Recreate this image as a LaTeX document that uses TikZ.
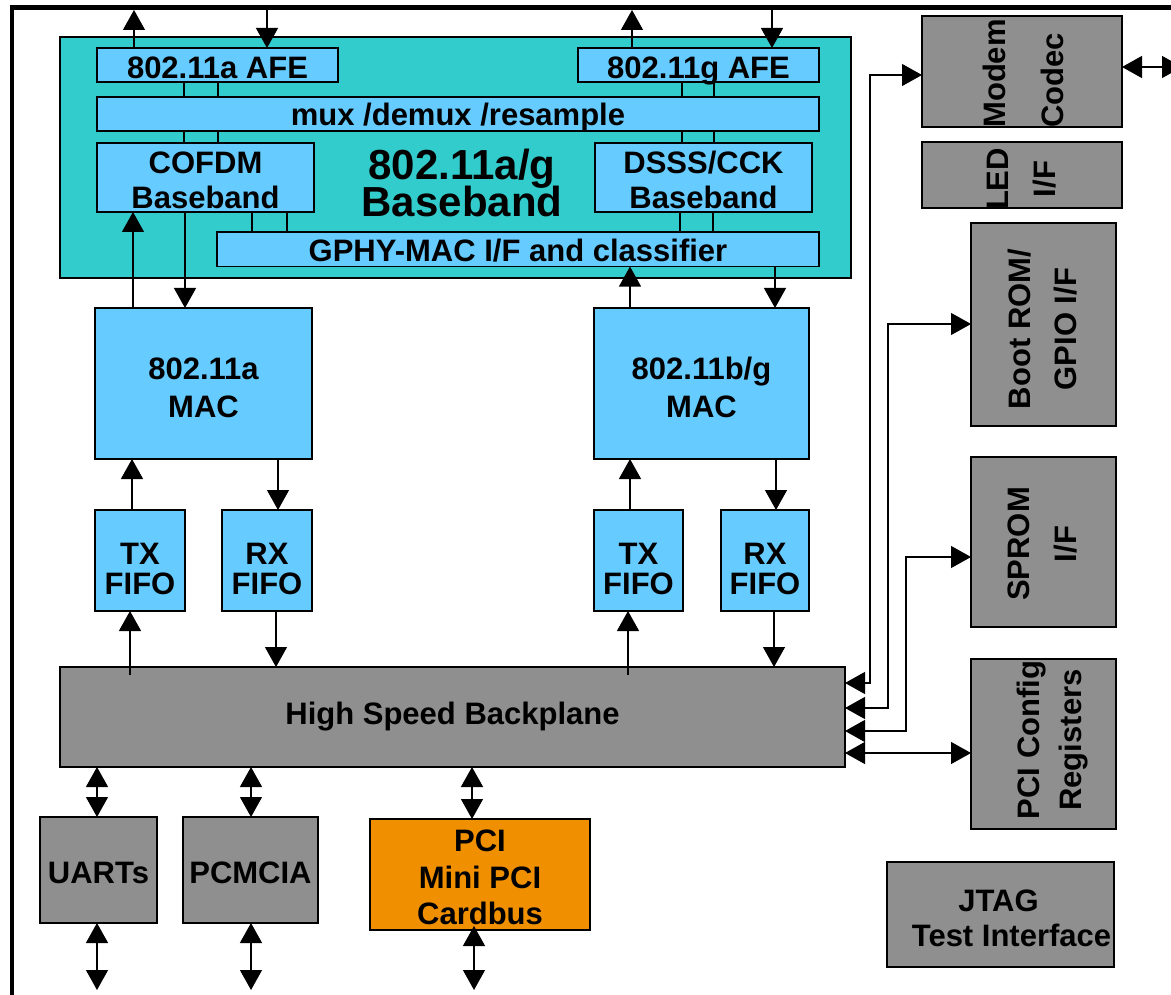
\documentclass[tikz,border=0pt]{standalone}
\usepackage{fontspec}
\setmainfont{Liberation Sans}
\usetikzlibrary{arrows.meta}
\definecolor{tealbg}{HTML}{33CCCC}
\definecolor{lblue}{HTML}{66CCFF}
\definecolor{gbox}{HTML}{8F8F8F}
\definecolor{orng}{HTML}{F09000}
\newcommand\fsz[2]{\fontsize{#1}{#2}\selectfont\bfseries\lineskiplimit=-100pt\lineskip=0pt\relax}
\begin{document}
\begin{tikzpicture}[x=1pt,y=-1pt,
  box/.style={draw=black, line width=1.8pt, inner sep=0pt, outer sep=0pt, align=center, font=\fsz{31}{35}},
  bluebox/.style={box, fill=lblue},
  graybox/.style={box, fill=gbox},
  lbl/.style={inner sep=0pt, outer sep=0pt, align=center, font=\fsz{31}{35}},
  rlbl/.style={lbl, rotate=90},
  ln/.style={line width=1.3pt},
  arr/.style={ln, -{Triangle[length=20pt,width=22pt]}},
  dbl/.style={ln, {Triangle[length=20pt,width=22pt]}-{Triangle[length=20pt,width=22pt]}},
]
\fill[white] (0,0) rectangle (1171,995);
\useasboundingbox (0,0) rectangle (1171,995);

% outer frame
\draw[line width=4.5pt, line join=miter] (12,1000) -- (12,7.5) -- (1190,7.5);

% baseband block
\node[box, fill=tealbg, minimum width=791pt, minimum height=241pt] (teal) at (455.5,157.5) {};
\node[bluebox, minimum width=241pt, minimum height=34pt, text height=28pt, text depth=0pt] (afea) at (217.5,65) {802.11a AFE};
\node[bluebox, minimum width=241pt, minimum height=34pt, text height=28pt, text depth=0pt] (afeg) at (698.5,65) {802.11g AFE};
\node[bluebox, minimum width=722pt, minimum height=34pt, text height=24pt, text depth=0pt] (mux) at (458,114) {mux /demux /resample};
\node[bluebox, minimum width=217pt, minimum height=69pt, text height=62pt] (cofdm) at (205.5,177.5) {COFDM\\Baseband};
\node[bluebox, minimum width=217pt, minimum height=69pt, text height=62pt] (dsss) at (703.5,177.5) {DSSS/CCK\\Baseband};
\node[bluebox, minimum width=602pt, minimum height=34.5pt, text height=25pt, text depth=0pt] (gphy) at (518,249.3) {GPHY-MAC I/F and classifier};
\node[lbl, font=\fsz{42}{37}] (title) at (462,183) {802.11a/g\\Baseband};

% MACs and FIFOs
\node[bluebox, minimum width=217pt, minimum height=151pt, font=\fsz{31}{38}, text height=68pt] (maca) at (203.5,383.5) {802.11a\\MAC};
\node[bluebox, minimum width=215pt, minimum height=151pt, font=\fsz{31}{38}, text height=68pt] (macg) at (701.5,383.5) {802.11b/g\\MAC};
\node[bluebox, minimum width=90pt, minimum height=101pt, font=\fsz{31}{30}, text height=67.6pt] (txa) at (140,560.5) {TX\\FIFO};
\node[bluebox, minimum width=90pt, minimum height=101pt, font=\fsz{31}{30}, text height=67.6pt] (rxa) at (267,560.5) {RX\\FIFO};
\node[bluebox, minimum width=89pt, minimum height=101pt, font=\fsz{31}{30}, text height=67.6pt] (txg) at (638.5,560.5) {TX\\FIFO};
\node[bluebox, minimum width=88pt, minimum height=101pt, font=\fsz{31}{30}, text height=67.6pt] (rxg) at (765,560.5) {RX\\FIFO};

% backplane and peripherals
\node[graybox, minimum width=785pt, minimum height=100pt] (bp) at (452.5,717) {High Speed Backplane};
\node[graybox, minimum width=117pt, minimum height=106pt, text height=27pt, text depth=0pt] (uart) at (98.5,870) {UARTs};
\node[graybox, minimum width=135pt, minimum height=106pt, text height=27pt, text depth=0pt] (pcmcia) at (250.5,870) {PCMCIA};
\node[box, fill=orng, minimum width=220pt, minimum height=111pt, font=\fsz{31}{36.5}, text height=101pt] (pci) at (480,874.5) {PCI\\Mini PCI\\Cardbus};

% right column
\node[graybox, minimum width=200pt, minimum height=111pt] (modem) at (1022,71.5) {};
\node[graybox, minimum width=200pt, minimum height=66pt] (led) at (1022,175) {};
\node[graybox, minimum width=145pt, minimum height=203pt] (boot) at (1043.5,324.5) {};
\node[graybox, minimum width=145pt, minimum height=170pt] (sprom) at (1043.5,542) {};
\node[graybox, minimum width=145pt, minimum height=170pt] (pcicfg) at (1043.5,744) {};
\node[graybox, minimum width=227pt, minimum height=105pt] (jtag) at (1000.5,914.5) {};

\node[rlbl, align=left, font=\fsz{31}{58}] (modemt) at (1023.3,73.5) {Modem\\Codec};
\node[rlbl, font=\fsz{31}{47}] (ledt) at (1021.8,179) {LED\\I/F};
\node[rlbl, font=\fsz{31}{46}] (boott) at (1042.3,329) {Boot ROM/\\GPIO I/F};
\node[rlbl, font=\fsz{31}{47}] (spromt) at (1042.8,544) {SPROM\\I/F};
\node[rlbl, font=\fsz{31}{42}] (pcicfgt) at (1052.7,740) {PCI Config\\Registers};
\node[lbl, font=\fsz{31}{35}] (jtagt) at (1011.5,918.2) {JTAG\hspace*{26pt}\\Test Interface};

% top arrows to frame
\coordinate (fa1) at (134,10);
\coordinate (fa2) at (267,10);
\coordinate (fg1) at (632,10);
\coordinate (fg2) at (772,10);
\draw[arr] (afea.north -| fa1) -- (fa1);
\draw[arr] (fa2) -- (afea.north -| fa2);
\draw[arr] (afeg.north -| fg1) -- (fg1);
\draw[arr] (fg2) -- (afeg.north -| fg2);

% internal links
\foreach \x in {184,218} {
  \draw[ln] (afea.south -| \x,0) -- (mux.north -| \x,0);
  \draw[ln] (mux.south -| \x,0) -- (cofdm.north -| \x,0);
}
\foreach \x in {252,287} \draw[ln] (cofdm.south -| \x,0) -- (gphy.north -| \x,0);
\foreach \x in {682,714} {
  \draw[ln] (afeg.south -| \x,0) -- (mux.north -| \x,0);
  \draw[ln] (mux.south -| \x,0) -- (dsss.north -| \x,0);
}
\foreach \x in {680,713} \draw[ln] (dsss.south -| \x,0) -- (gphy.north -| \x,0);

% baseband <-> MAC
\draw[arr] (maca.north -| 133,0) -- (cofdm.south -| 133,0);
\draw[arr] (cofdm.south -| 185,0) -- (maca.north -| 185,0);
\draw[arr] (macg.north -| 630,0) -- (gphy.south -| 630,0);
\draw[arr] (gphy.south -| 775,0) -- (macg.north -| 775,0);

% MAC <-> FIFO
\draw[arr] (txa.north -| 132,0) -- (maca.south -| 132,0);
\draw[arr] (maca.south -| 278,0) -- (rxa.north -| 278,0);
\draw[arr] (txg.north -| 630,0) -- (macg.south -| 630,0);
\draw[arr] (macg.south -| 776,0) -- (rxg.north -| 776,0);

% FIFO <-> backplane
\coordinate (b1) at (130,675);
\coordinate (b2) at (628,675);
\draw[arr] (b1) -- (txa.south -| b1);
\draw[arr] (rxa.south -| 276,0) -- (bp.north -| 276,0);
\draw[arr] (b2) -- (txg.south -| b2);
\draw[arr] (rxg.south -| 774,0) -- (bp.north -| 774,0);

% bottom
\coordinate (e1) at (97,990);
\coordinate (e2) at (251,990);
\coordinate (e3) at (474,990);
\draw[dbl] (bp.south -| e1) -- (uart.north -| e1);
\draw[dbl] (uart.south -| e1) -- (e1);
\draw[dbl] (bp.south -| e2) -- (pcmcia.north -| e2);
\draw[dbl] (pcmcia.south -| e2) -- (e2);
\draw[dbl] (bp.south -| 472,0) -- (pci.north -| 472,0);
\draw[dbl, shorten <=-4pt] (pci.south -| e3) -- (e3);

% right side
\coordinate (r1) at (870,75);
\coordinate (r2) at (888,324);
\coordinate (r3) at (906,557);
\draw[dbl] (bp.east |- 0,683) -| (r1) -- (modem.west |- r1);
\draw[dbl] (bp.east |- 0,708) -| (r2) -- (boot.west |- r2);
\draw[dbl] (bp.east |- 0,731) -| (r3) -- (sprom.west |- r3);
\draw[dbl] (bp.east |- 0,753) -- (pcicfg.west |- 0,753);
\coordinate (mr) at (1182,67);
\draw[dbl] (modem.east |- mr) -- (mr);
\end{tikzpicture}
\end{document}
